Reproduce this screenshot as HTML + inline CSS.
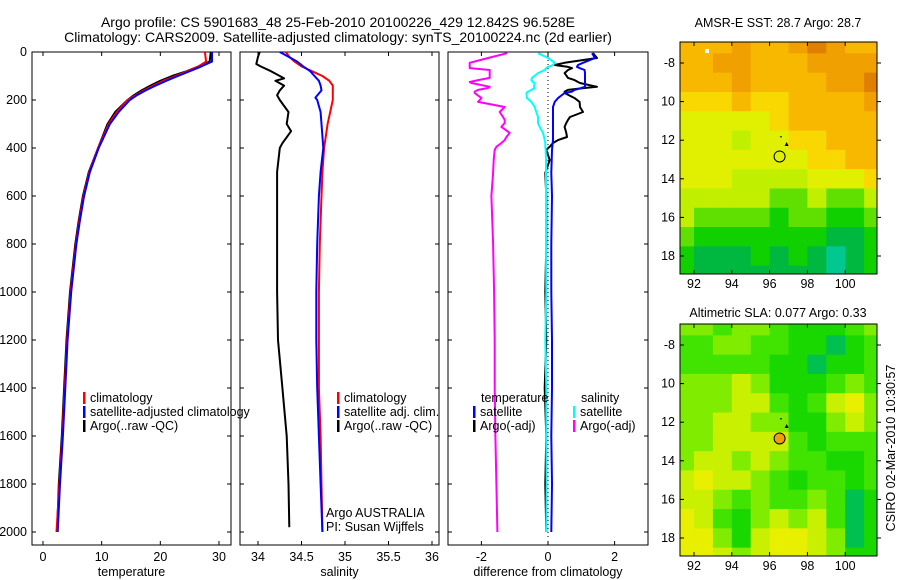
<!DOCTYPE html>
<html><head><meta charset="utf-8"><style>
html,body{margin:0;padding:0;background:#fff;}
svg{display:block;font-family:"Liberation Sans",sans-serif;}
</style></head><body>
<svg id="chart" width="900" height="580" viewBox="0 0 900 580" xmlns="http://www.w3.org/2000/svg">
<text x="338" y="27" font-size="14" text-anchor="middle">Argo profile: CS 5901683_48 25-Feb-2010 20100226_429 12.842S 96.528E</text>
<text x="338" y="42" font-size="14" text-anchor="middle">Climatology: CARS2009. Satellite-adjusted climatology: synTS_20100224.nc (2d earlier)</text>
<g id="layer"></g>
<text x="778" y="27" font-size="12.5" text-anchor="middle">AMSR-E SST: 28.7 Argo: 28.7</text>
<text x="778" y="317" font-size="12.5" text-anchor="middle">Altimetric SLA: 0.077 Argo: 0.33</text>
<text x="0" y="0" font-size="12.5" text-anchor="middle" transform="translate(895,448) rotate(-90)">CSIRO 02-Mar-2010 10:30:57</text>
</svg>
<script>
// ---- data ----
const tDepth = [0,20,40,60,80,100,120,140,160,180,200,250,300,400,500,600,700,800,1000,1200,1400,1600,1800,2000];
const tClim  = [27.6,27.7,27.8,26.5,24.6,22.6,20.5,18.8,17.2,15.8,14.4,12.6,11.2,9.4,7.9,6.9,6.2,5.6,4.7,4.1,3.7,3.3,2.8,2.3];
const tSat   = [28.8,28.8,28.8,27.0,25.0,23.0,21.0,19.2,17.5,16.0,14.8,12.9,11.4,9.5,8.0,7.0,6.3,5.7,4.8,4.2,3.8,3.4,2.9,2.5];
const tArgo  = [28.6,28.5,28.4,26.5,24.5,22.0,20.0,18.3,16.8,15.5,14.4,12.3,11.0,9.4,7.8,6.8,6.1,5.5,4.6,4.0,3.6,3.2,2.7,2.4];

const sDepth = [0,20,40,60,80,100,120,140,160,190,200,250,300,400,500,600,800,1000,1200,1400,1600,1800,2000];
const sClim  = [34.32,34.36,34.42,34.5,34.62,34.74,34.82,34.86,34.86,34.86,34.86,34.83,34.8,34.76,34.74,34.73,34.71,34.7,34.7,34.7,34.72,34.73,34.74];
const sSat   = [34.25,34.35,34.45,34.52,34.6,34.65,34.7,34.72,34.73,34.66,34.68,34.72,34.73,34.75,34.72,34.7,34.68,34.67,34.67,34.68,34.7,34.72,34.74];
const aDepth = [0,20,50,60,80,100,110,120,140,160,180,200,250,300,330,380,400,500,600,800,1000,1200,1400,1600,1800,1980];
const sArgo  = [34.02,34.0,33.98,34.03,34.15,34.25,34.3,34.2,34.3,34.25,34.22,34.25,34.35,34.33,34.38,34.28,34.25,34.22,34.22,34.22,34.22,34.23,34.28,34.33,34.35,34.36];

const dDepth = [5,25,45,54,62,67,75,88,108,117,125,129,145,150,158,165,171,192,208,229,250,271,283,296,312,337,354,367,379,395,408,450,504,600,800,1000,1200,1400,1600,1800,2000];
const dTempSat  = [1.32,1.41,1.05,0.9,0.87,0.95,1.1,1.11,1.11,1.11,1.11,1.11,1.11,1.0,0.8,0.72,0.5,0.3,0.2,0.15,0.15,0.15,0.15,0.15,0.15,0.15,0.15,0.15,0.14,0.13,0.12,0.11,0.1,0.12,0.1,0.1,0.12,0.12,0.1,0.12,0.1];
const dTempArgo = [1.35,1.47,0.5,0.2,0.6,0.72,0.6,0.5,0.6,0.8,0.9,0.96,1.47,1.1,0.6,0.5,0.5,0.8,0.95,0.96,1.05,0.66,0.6,0.55,0.5,0.55,0.57,0.3,0.15,0.05,-0.05,0.05,-0.08,-0.05,-0.05,-0.08,-0.05,-0.1,-0.05,-0.08,-0.05];
const dSalSat   = [-0.3,0.0,0.2,0.15,0.0,-0.05,-0.1,-0.3,-0.48,-0.5,-0.45,-0.4,-0.42,-0.4,-0.5,-0.6,-0.65,-0.63,-0.5,-0.4,-0.35,-0.3,-0.3,-0.3,-0.25,-0.15,-0.12,-0.1,-0.08,-0.08,-0.07,-0.06,-0.06,-0.06,-0.06,-0.05,-0.08,-0.05,-0.05,-0.04,-0.05];
const dSalArgo  = [-1.23,-1.8,-2.35,-2.35,-2.35,-2.35,-1.75,-1.75,-1.75,-2.1,-2.35,-2.3,-1.75,-1.8,-2.1,-2.2,-2.2,-2.0,-2.1,-1.3,-1.45,-1.35,-1.3,-1.3,-1.4,-1.15,-1.25,-1.3,-1.4,-1.55,-1.6,-1.63,-1.65,-1.7,-1.65,-1.62,-1.6,-1.6,-1.58,-1.55,-1.52];

const depthTicks = [0,200,400,600,800,1000,1200,1400,1600,1800,2000];
const tempTicks = [0,10,20,30];
const salTicks = [34,34.5,35,35.5,36];
const salTickLabels = ["34","34.5","35","35.5","36"];
const diffTicks = [-2,0,2];

const mapLons = [91.5,92.5,93.5,94.5,95.5,96.5,97.5,98.5,99.5,100.5,101.5];
const mapLats = [-7,-8,-9,-10,-11,-12,-13,-14,-15,-16,-17,-18,-19];
const sstGrid = [
[7,7,7,8,7,7,8,9,8,7,7],
[7,7,8,8,7,7,7,8,8,8,8],
[7,7,7,8,7,7,7,7,8,8,9],
[6,6,6,7,6,6,7,7,7,7,8],
[5,5,5,5,5,6,7,7,7,7,7],
[5,5,5,4,5,5,6,6,7,7,7],
[5,5,5,5,5,5,5,6,6,7,7],
[5,5,5,4,4,4,4,5,5,5,6],
[4,4,4,4,4,3,3,4,3,3,4],
[4,3,3,3,3,2,3,3,2,2,3],
[3,2,2,2,2,2,2,2,1,1,2],
[2,1,1,1,2,1,2,1,0,1,2],
[2,1,1,1,1,1,1,1,0,1,2]];
const slaGrid = [
[3,3,2,3,3,2,1,1,1,2,3],
[2,2,3,3,2,2,1,1,0,1,2],
[2,2,2,2,2,1,1,0,1,1,2],
[3,3,3,4,3,1,1,1,2,3,2],
[3,3,3,4,4,2,1,2,4,5,3],
[3,3,4,4,3,3,1,1,3,4,3],
[3,3,4,4,4,4,2,1,2,2,2],
[3,4,4,3,4,3,2,2,1,1,2],
[4,5,4,4,3,2,1,2,2,1,2],
[4,4,3,2,3,2,2,3,2,0,1],
[5,4,2,1,3,4,3,4,2,0,1],
[5,5,3,1,4,5,5,4,3,0,1],
[5,5,4,3,4,5,5,4,3,1,1]];
const mapXTicks = [92,94,96,98,100];
const mapYTicks = [-8,-10,-12,-14,-16,-18];
const mapYLabels = ["-8","10","12","14","16","18"];
const argoLon = 96.528, argoLat = -12.842;

// ---- helpers ----
const NS="http://www.w3.org/2000/svg";
const layer=document.getElementById('layer');
function mk(tag,attrs,parent){const e=document.createElementNS(NS,tag);for(const k in attrs)e.setAttribute(k,attrs[k]);(parent||layer).appendChild(e);return e;}
const yD = d => 52 + d*0.24;
const PT=52, PB=545;
const panels = [
 {l:32,r:231, x:v=>43+v*(176/30)},
 {l:240,r:439, x:v=>258+(v-34)*87},
 {l:448,r:648, x:v=>548+v*33.3}
];

function frame(p,name){
  const r=mk('rect',{x:p.l,y:PT,width:p.r-p.l,height:PB-PT,fill:'none',stroke:'#000','stroke-width':1});
  
  
  depthTicks.forEach(d=>{const y=yD(d);
    mk('line',{x1:p.l,x2:p.l+4,y1:y,y2:y,stroke:'#000'});
    mk('line',{x1:p.r-4,x2:p.r,y1:y,y2:y,stroke:'#000'});});
}
function xticks(p,ticks,labels,title,name){
  const g=mk('g',{});
  
  
  ticks.forEach((t,i)=>{const x=p.x(t);
    mk('line',{x1:x,x2:x,y1:PT,y2:PT+4,stroke:'#000'},g);
    mk('line',{x1:x,x2:x,y1:PB-4,y2:PB,stroke:'#000'},g);
    const tx=mk('text',{x:x,y:561,'font-size':12.5,'text-anchor':'middle'},g);tx.textContent=labels[i];});
  const tt=mk('text',{x:(p.l+p.r)/2,y:576,'font-size':12.5,'text-anchor':'middle'},g);tt.textContent=title;
}
function line(p,depths,vals,color,w,name){
  const pts=depths.map((d,i)=>p.x(vals[i]).toFixed(1)+','+yD(d).toFixed(1)).join(' ');
  const pl=mk('polyline',{points:pts,fill:'none',stroke:color,'stroke-width':w,'stroke-linejoin':'round'});
  
  
}
function legend(x,y,color,label,name){
  const g=mk('g',{});
  
  
  mk('rect',{x:x,y:y-10,width:2.5,height:12,fill:color},g);
  const t=mk('text',{x:x+7,y:y,'font-size':12.5},g);t.textContent=label;
}

const yl=mk('g',{});


depthTicks.forEach(d=>{const t=mk('text',{x:27,y:yD(d)+4,'font-size':12.5,'text-anchor':'end'},yl);t.textContent=d;});

frame(panels[0],'temperature-panel-frame');
frame(panels[1],'salinity-panel-frame');
frame(panels[2],'difference-panel-frame');
xticks(panels[0],tempTicks,tempTicks.map(String),'temperature','temperature-x-axis');
xticks(panels[1],salTicks,salTickLabels,'salinity','salinity-x-axis');
xticks(panels[2],diffTicks,diffTicks.map(String),'difference from climatology','difference-x-axis');

line(panels[0],tDepth,tArgo,'#000',2,'temp-argo-line');
line(panels[0],tDepth,tClim,'#f00',2,'temp-climatology-line');
line(panels[0],tDepth,tSat,'#00f',2,'temp-satellite-line');
legend(83,402,'#f00','climatology','legend-climatology');
legend(83,416,'#00f','satellite-adjusted climatology','legend-satellite-adjusted');
legend(83,430,'#000','Argo(..raw -QC)','legend-argo-raw');

line(panels[1],aDepth,sArgo,'#000',2,'sal-argo-line');
line(panels[1],sDepth,sClim,'#f00',2,'sal-climatology-line');
line(panels[1],sDepth,sSat,'#00f',2,'sal-satellite-line');
legend(337,402,'#f00','climatology','legend-sal-climatology');
legend(337,416,'#00f','satellite adj. clim.','legend-sal-satellite');
legend(337,430,'#000','Argo(..raw -QC)','legend-sal-argo');
let t1=mk('text',{x:326,y:517,'font-size':12.5});t1.textContent='Argo AUSTRALIA';


let t2=mk('text',{x:326,y:531,'font-size':12.5});t2.textContent='PI: Susan Wijffels';



const zl=mk('line',{x1:548,x2:548,y1:PT,y2:PB-8,stroke:'#000','stroke-dasharray':'1,3'});


line(panels[2],dDepth,dSalArgo,'#f0f',2,'diff-sal-argo-line');
line(panels[2],dDepth,dTempArgo,'#000',2,'diff-temp-argo-line');
line(panels[2],dDepth,dSalSat,'#0ff',2,'diff-sal-satellite-line');
line(panels[2],dDepth,dTempSat,'#00f',2,'diff-temp-satellite-line');
let lt=mk('text',{x:481,y:402,'font-size':12.5});lt.textContent='temperature';


let ls=mk('text',{x:581,y:402,'font-size':12.5});ls.textContent='salinity';


legend(473,416,'#00f','satellite','legend-temp-satellite');
legend(473,430,'#000','Argo(-adj)','legend-temp-argo');
legend(573,416,'#0ff','satellite','legend-sal-satellite-diff');
legend(573,430,'#f0f','Argo(-adj)','legend-sal-argo-diff');

const sstCols=['#00c890','#00b840','#10d000','#60e000','#c0f000','#e0f000','#f8d800','#f8b800','#f0a000','#e08000'];
const slaCols=['#00c050','#18d800','#40e400','#80ec00','#c8f000','#e8f000'];
function drawMap(top,grid,cols,name,filled){
  const L=680,R=877,B=top+232;
  const lx=v=>694+(v-92)*18.9;
  const ly=v=>top+21+(-8-v)*19.3;
  const g=mk('g',{});
  
  
  mk('clipPath',{id:name+'-clip'},g).appendChild(mk('rect',{x:L,y:top,width:R-L,height:B-top},g));
  const cg=mk('g',{'clip-path':'url(#'+name+'-clip)'},g);
  grid.forEach((row,i)=>row.forEach((v,j)=>{
    const x0=lx(mapLons[j]-0.5), y0=ly(mapLats[i]+0.5);
    const c=mk('rect',{x:x0,y:y0,width:18.9+0.5,height:19.3+0.5,fill:cols[v]},cg);
    
    
  }));
  mk('rect',{x:L,y:top,width:R-L,height:B-top,fill:'none',stroke:'#000'},g);
  mapXTicks.forEach(t=>{const x=lx(t);
    mk('line',{x1:x,x2:x,y1:top,y2:top+4,stroke:'#000'},g);
    mk('line',{x1:x,x2:x,y1:B-4,y2:B,stroke:'#000'},g);
    const tx=mk('text',{x:x,y:B+14,'font-size':12.5,'text-anchor':'middle'},g);tx.textContent=t;});
  mapYTicks.forEach((t,i)=>{const y=ly(t);
    mk('line',{x1:L,x2:L+4,y1:y,y2:y,stroke:'#000'},g);
    mk('line',{x1:R,x2:R+4,y1:y,y2:y,stroke:'#000'},g);
    const tx=mk('text',{x:675,y:y+4,'font-size':12.5,'text-anchor':'end'},g);tx.textContent=mapYLabels[i];});
  const mk1=mk('circle',{cx:lx(argoLon),cy:ly(argoLat),r:5.5,fill:filled?'#f0a000':'none',stroke:'#000','stroke-width':1},g);
  
  
  mk('polygon',{points:(lx(96.9)-2)+','+(ly(-12.2)+2)+' '+(lx(96.9)+2)+','+(ly(-12.2)+2)+' '+lx(96.9)+','+(ly(-12.2)-2),fill:'#000'},g);
  mk('rect',{x:lx(96.6)-1,y:ly(-11.85)-1,width:2,height:1,fill:'#000'},g);
}
drawMap(42,sstGrid,sstCols,'sst-map',false);
drawMap(324,slaGrid,slaCols,'sla-map',true);
const wp=mk('rect',{x:705,y:49,width:4,height:4,fill:'#fff'});


</script>
</body></html>
